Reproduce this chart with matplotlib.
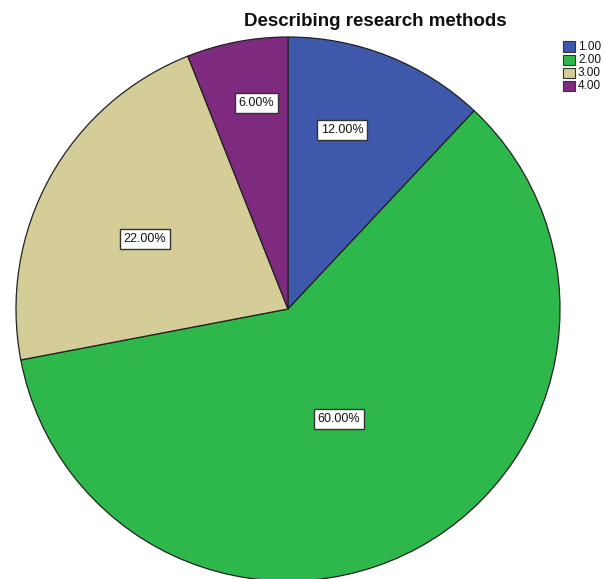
import numpy as np
import matplotlib
matplotlib.use("Agg")
import matplotlib.pyplot as plt
from matplotlib.patches import Rectangle

categories = ["1.00", "2.00", "3.00", "4.00"]
percents = [12.0, 60.0, 22.0, 6.0]
colors = ["#3E58AC", "#2EB84B", "#D4CD97", "#7E2A7E"]
# radial distance and angular nudge (degrees) for each slice label
label_radius = [0.687, 0.445, 0.587, 0.767]
label_nudge = [4.8, -4.1, 2.7, -2.1]

plt.rcParams["font.family"] = ["Liberation Sans", "DejaVu Sans"]

W, H = 605, 579
fig = plt.figure(figsize=(W / 100, H / 100), dpi=100)
cx, cy, r = 288, 309, 272
ax = fig.add_axes([(cx - r) / W, (H - cy - r) / H, 2 * r / W, 2 * r / H])

wedges, _ = ax.pie(percents, colors=colors, startangle=90, counterclock=False,
                   wedgeprops=dict(edgecolor="#222222", linewidth=0.9))
ax.set_xlim(-1, 1)
ax.set_ylim(-1, 1)
ax.set_aspect("auto")
ax.axis("off")
for w in wedges:
    w.set_clip_on(False)

for w, p, lr, nd in zip(wedges, percents, label_radius, label_nudge):
    ang = np.deg2rad((w.theta1 + w.theta2) / 2 + nd)
    ax.text(lr * np.cos(ang), lr * np.sin(ang), f"{p:.2f}%", ha="center", va="center",
            fontsize=9, color="#111111",
            bbox=dict(boxstyle="square,pad=0.3", fc="white", ec="#333333", lw=1.0))

fig.text(375.5 / W, 1 - 21 / H, "Describing research methods", ha="center", va="center",
         fontsize=13.5, fontweight="bold", color="#111111")

for i, (c, col) in enumerate(zip(categories, colors)):
    y = 46.5 + 13.3 * i
    fig.patches.append(Rectangle((563 / W, 1 - (y + 5) / H), 12 / W, 10 / H,
                                 transform=fig.transFigure, fc=col, ec="#333333", lw=0.8))
    fig.text(578 / W, 1 - y / H, c, ha="left", va="center", fontsize=8.5, color="#111111")

fig.savefig("out.png", dpi=100, facecolor="white")
